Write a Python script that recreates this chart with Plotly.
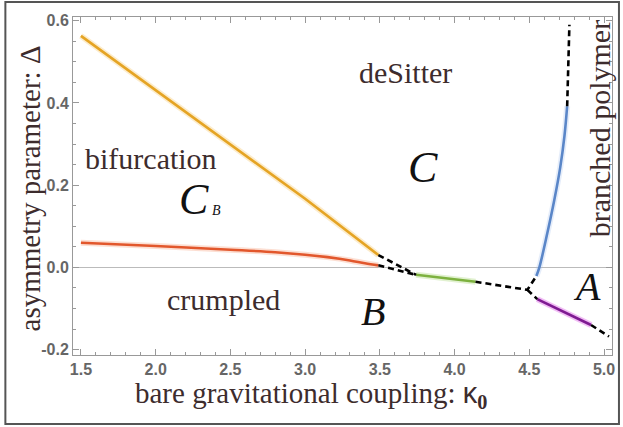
import plotly.graph_objects as go

# ---- data ----
orange_k = [1.5, 2.0, 2.5, 3.0, 3.49]
orange_d = [0.563, 0.431, 0.299, 0.167, 0.030]

red_k = [1.5, 2.0, 2.5, 2.8, 3.0, 3.15, 3.3, 3.4, 3.49]
red_d = [0.060, 0.052, 0.043, 0.037, 0.031, 0.025, 0.017, 0.010, 0.005]

green_k = [3.742, 3.95, 4.14]
green_d = [-0.018, -0.026, -0.035]

blue_k = [4.547, 4.567, 4.62, 4.667, 4.707, 4.735, 4.753]
blue_d = [-0.021, 0.0, 0.083, 0.164, 0.244, 0.32, 0.392]

purple_k = [4.553, 4.73, 4.913]
purple_d = [-0.077, -0.108, -0.140]

dash_segments = [
    ([3.49, 3.742], [0.030, -0.018]),
    ([3.49, 3.742], [0.005, -0.018]),
    ([4.14, 4.487, 4.547], [-0.035, -0.0545, -0.021]),
    ([4.487, 4.553], [-0.0545, -0.077]),
    ([4.913, 5.033], [-0.140, -0.168]),
    ([4.753, 4.768], [0.392, 0.59]),
]

x_ticks = [1.5, 2.0, 2.5, 3.0, 3.5, 4.0, 4.5, 5.0]
y_ticks = [-0.2, 0.0, 0.2, 0.4, 0.6]

labels = [
    ("deSitter", 3.669, 0.475),
    ("bifurcation", 1.966, 0.266),
    ("crumpled", 2.451, -0.079),
]

fig = go.Figure()

def colored(k, d, col, halo, shape="linear"):
    fig.add_trace(go.Scatter(x=k, y=d, mode="lines", line=dict(color=halo, width=6, shape=shape),
                             hoverinfo="skip", showlegend=False))
    fig.add_trace(go.Scatter(x=k, y=d, mode="lines", line=dict(color=col, width=2.6, shape=shape),
                             showlegend=False))

colored(orange_k, orange_d, "#E5A424", "rgba(245,200,110,0.35)")
colored(red_k, red_d, "#E2572C", "rgba(245,150,110,0.3)", "spline")
colored(green_k, green_d, "#7DB13F", "rgba(170,215,120,0.35)")
colored(blue_k, blue_d, "#5A86C8", "rgba(150,185,235,0.25)", "spline")
colored(purple_k, purple_d, "#7F1A92", "rgba(220,90,230,0.4)")

for k, d in dash_segments:
    fig.add_trace(go.Scatter(x=k, y=d, mode="lines",
                             line=dict(color="black", width=2.6, dash="6px,4px"),
                             showlegend=False))

txtcol = "#3d2c2d"
C = dict(xanchor="center", yanchor="middle", showarrow=False)
ann = []
for t, x, y in labels:
    ann.append(dict(text=t, x=x, y=y, xref="x", yref="y", **C,
                    font=dict(family="Liberation Serif", size=30, color=txtcol)))
ann.append(dict(text="branched polymer", x=4.966, y=0.336, xref="x", yref="y",
                textangle=-90, **C,
                font=dict(family="Liberation Serif", size=30, color=txtcol)))
big = dict(family="Liberation Serif", size=44, color="#111")
ann.append(dict(text="<i>C</i>", x=2.258, y=0.166, xref="x", yref="y", **C, font=big))
ann.append(dict(text="<i>B</i>", x=2.41, y=0.138, xref="x", yref="y", **C,
                font=dict(family="Liberation Serif", size=14, color="#111")))
ann.append(dict(text="<i>C</i>", x=3.789, y=0.244, xref="x", yref="y", **C, font=big))
ann.append(dict(text="<i>B</i>", x=3.456, y=-0.108, xref="x", yref="y", **C,
                font=dict(family="Liberation Serif", size=40, color="#111")))
ann.append(dict(text="<i>A</i>", x=4.887, y=-0.047, xref="x", yref="y", **C,
                font=dict(family="Liberation Serif", size=40, color="#111")))
# axis titles
ann.append(dict(text="bare gravitational coupling: <span style='font-family:Liberation Sans'>κ</span><sub><b>0</b></sub>",
                x=0.441, y=-0.119, xref="paper", yref="paper", **C,
                font=dict(family="Liberation Serif", size=29, color=txtcol)))
ann.append(dict(text="asymmetry parameter: Δ", x=-0.079, y=0.494, xref="paper", yref="paper",
                textangle=-90, **C,
                font=dict(family="Liberation Serif", size=29, color=txtcol)))

W, H = 623, 427
L, R, T, B = 73, 8, 17, 72
pw, ph = W - L - R, H - T - B
shapes = [dict(type="rect", xref="paper", yref="paper",
               x0=(5 - L) / pw, x1=(622 - L) / pw,
               y0=(H - B - 424) / ph, y1=(H - B - 2) / ph,
               line=dict(color="#555", width=2))]

axis_common = dict(showgrid=False, ticks="inside", ticklen=6, tickwidth=1,
                   tickcolor="#999", showline=True, linecolor="#999", linewidth=1,
                   mirror="allticks",
                   tickfont=dict(family="Liberation Sans", size=16, color="#666", weight="bold"))

fig.update_layout(
    width=W, height=H, margin=dict(l=L, r=R, t=T, b=B),
    paper_bgcolor="white", plot_bgcolor="white",
    xaxis=dict(range=[1.447, 5.053], tickvals=x_ticks, ticktext=[f"{v:.1f}" for v in x_ticks],
               zeroline=False,
               minor=dict(dtick=0.1, tick0=1.5, ticks="inside", ticklen=3, tickcolor="#999"),
               **axis_common),
    yaxis=dict(range=[-0.213, 0.609], tickvals=y_ticks, ticktext=[f"{v:.1f}" for v in y_ticks],
               zeroline=True, zerolinecolor="#bbb", zerolinewidth=1,
               minor=dict(dtick=0.05, tick0=0, ticks="inside", ticklen=3, tickcolor="#999"),
               **axis_common),
    annotations=ann, shapes=shapes, showlegend=False,
)

fig.write_html("out.html")
